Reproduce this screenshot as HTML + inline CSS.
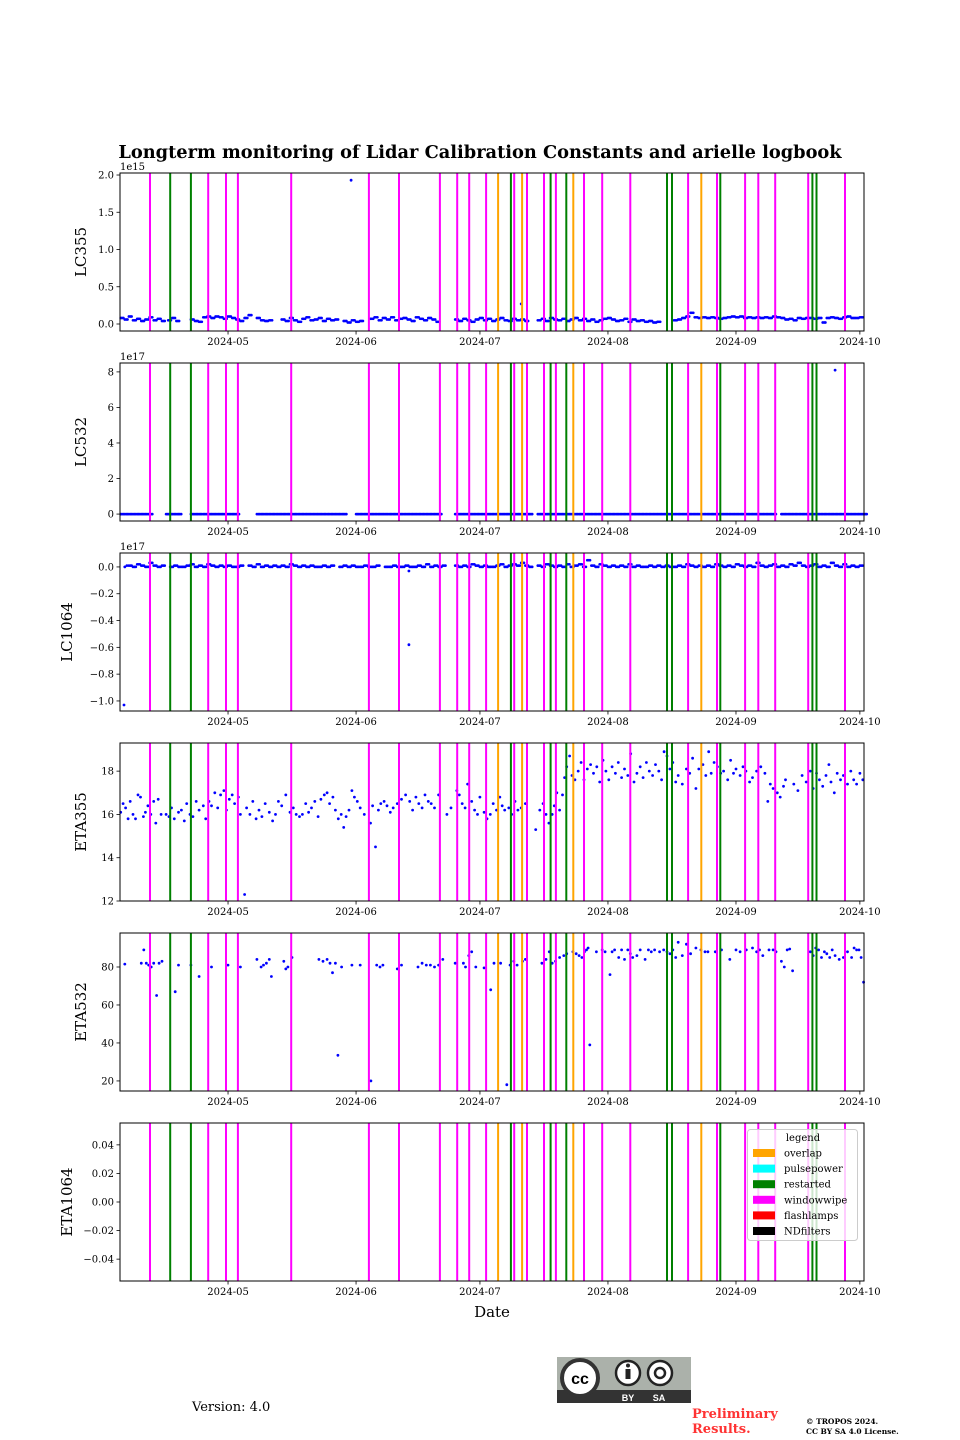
<!DOCTYPE html>
<html><head><meta charset="utf-8">
<style>
html,body{margin:0;padding:0;background:#fff;}
svg{display:block;font-family:"DejaVu Serif","Liberation Serif",serif;}
</style></head>
<body>
<svg id="chart" width="960" height="1440" viewBox="0 0 960 1440"></svg>
<script>
// ---------- data ----------
const tickDates = [121, 152, 182, 213, 244, 274]; // day-of-year (0-based) of month starts
const tickLabels = ["2024-05","2024-06","2024-07","2024-08","2024-09","2024-10"];
const eventsWindowwipe = [102.1,116.2,120.5,123.4,136.3,155.1,162.4,172.3,176.5,179.4,183.5,190.3,193.4,197.5,200.4,207.2,211.6,218.4,232.4,239.4,246.2,249.4,253.5,261.5,270.4];
const eventsRestarted = [107,112,189.5,199.1,202.9,227.3,228.5,240.2,262.5,263.5];
const eventsOverlap = [186.4,192.2,204.6,235.6];

// LC355 (x1e15): runs of [startDay, dailyValues]
const lc355Runs = [
 [95,[0.08,0.06,0.1,0.05,0.07,0.04,0.06,0.09,0.05,0.07,0.04]],
 [106.5,[0.05,0.08,0.04]],
 [112,[0.06,0.04,0.03,0.09,0.1,0.08,0.1,0.09,0.07,0.1,0.08,0.06,0.04,0.08,0.12]],
 [128,[0.08,0.05,0.04,0.05]],
 [134,[0.06,0.04,0.08,0.05,0.03,0.07,0.09,0.05,0.06,0.08,0.04,0.07,0.05,0.06]],
 [149,[0.04,0.02,0.05,0.03,0.04]],
 [155.5,[0.07,0.09,0.05,0.08,0.06,0.09,0.05,0.07,0.08,0.06,0.04,0.09,0.07,0.05,0.08,0.06,0.03]],
 [176,[0.06,0.04,0.07,0.05,0.03,0.06,0.08,0.05,0.07,0.04,0.06,0.08,0.05,0.04,0.07,0.05,0.06,0.04]],
 [196,[0.05,0.07,0.04,0.08,0.06,0.05,0.07,0.04,0.06,0.08,0.05,0.07,0.04,0.06,0.03,0.05,0.07,0.08,0.06,0.04,0.05,0.07,0.03,0.06,0.04,0.05,0.03,0.04,0.02,0.03]],
 [229,[0.05,0.06,0.08,0.1,0.15,0.09,0.08,0.09,0.08,0.09,0.08,0.07,0.08,0.09,0.1,0.09,0.1,0.08,0.09,0.08,0.09,0.08,0.09,0.08,0.1,0.09,0.08,0.06,0.07,0.05,0.08,0.07,0.08,0.08,0.07,0.08,0.02,0.08,0.09,0.08,0.07,0.09,0.1,0.08,0.08,0.09]]
];
const lc355Extra = [[150.8,1.93],[192,0.27]];

// LC532 (x1e17)
const lc532Runs = [
 [95,[0,0,0,0,0,0,0,0]],
 [106,[0,0,0,0]],
 [112,[0,0,0,0,0,0,0,0,0,0,0,0]],
 [128,[0,0,0,0,0,0,0,0,0,0]],
 [138,[0,0,0,0,0,0,0,0,0,0,0,0]],
 [152,[0,0,0,0,0,0,0,0,0,0,0,0,0,0,0,0,0,0,0,0,0]],
 [176,[0,0,0,0,0,0,0,0,0,0,0,0,0,0,0,0,0,0,0]],
 [196,[0,0,0,0,0,0,0,0,0,0,0,0,0,0,0,0,0,0,0,0,0,0,0,0,0,0,0,0,0,0,0,0,0,0,0,0,0,0,0,0,0,0,0,0,0,0,0,0,0,0,0,0,0,0,0,0,0,0]],
 [255,[0,0,0,0,0,0,0,0,0,0,0,0,0,0,0,0,0,0,0,0,0]]
];
const lc532Extra = [[268,8.1]];

// LC1064 (x1e17)
const lc1064Runs = [
 [97,[0.01,0.0,0.02,0.01,0.0,0.03,0.01,0.0,0.01]],
 [107,[0.0,0.01,0.0,0.0,0.01,0.02,0.0,0.01,0.0,0.02,0.01,0.0,0.01,0.0,0.01,0.0,0.0,0.01]],
 [126,[0.01,0.0,0.02,0.0,0.01,0.0,0.01,0.0,0.01,0.0,0.02,0.01,0.0,0.01,0.0,0.01,0.0,0.0,0.01,0.0,0.01]],
 [148,[0.0,0.01,0.0,0.01,0.0,0.0,0.01,0.0,0.0,0.01]],
 [159,[0.0,0.0,0.01,0.0,0.0,0.01,0.0,0.0,0.01,0.0,0.02,0.0,0.01,0.0,0.01]],
 [176,[0.01,0.0,0.01,0.0,0.02,0.01,0.0,0.01,0.0,0.0,0.01,0.02,0.0,0.01,0.02,0.01,0.03,0.01,0.0]],
 [196,[0.01,0.0,0.02,0.01,0.0,0.01,0.0,0.02,0.0,0.01,0.02,0.0,0.05,0.01,0.0,0.02,0.01,0.0,0.01,0.0,0.01,0.0,0.02,0.0,0.01,0.0,0.0,0.01,0.0,0.01,0.0,0.01,0.0,0.0,0.01,0.0,0.02,0.01,0.0,0.01,0.0,0.01,0.0,0.02,0.01,0.0,0.01,0.0,0.02,0.01,0.0,0.01,0.0,0.03,0.01,0.0,0.01,0.02,0.0,0.01,0.0,0.02,0.01,0.03,0.01,0.0,0.01,0.02,0.0,0.01,0.0,0.03,0.01,0.0,0.02,0.0,0.01,0.0,0.01]]
];
const lc1064Extra = [[95.8,-1.03],[164.8,-0.58],[164.8,-0.03],[96,0.0],[96.5,0.01]];

// ETA355
const eta355Days = [95,95.6,96.2,96.8,97.3,98,98.6,99.2,99.8,100.5,101,101.6,102.3,103,103.5,104.1,104.8,106,106.7,107.3,108,109,109.7,110.4,111,111.8,112.5,113.3,114,115,115.6,116.4,117,117.8,118.5,119.2,120,120.6,121.3,122,122.6,123.5,124,125,125.5,126.3,127,127.8,128.5,129.2,130,131,131.8,132.5,133.2,134,135,136,136.8,137.5,138.3,139,139.8,140.5,141.2,142,142.8,143.5,144.3,145,145.6,146.4,147,147.7,148.4,149,149.6,150.3,151,151.6,152.3,153,154,155.5,156,156.7,157.4,158,158.8,159.5,160.3,161,162,163,164,165,165.7,166.5,167.2,168,168.7,169.5,170.2,171,172,174,175,176.4,177,177.7,178.4,179,180,180.7,181.4,182,183,183.7,184.5,185.2,186,186.8,187.4,188,189,189.7,190.5,191.2,192,193,195.5,196.5,197.3,198,198.7,199.5,200,200.6,201.3,202,202.5,203,203.7,204.3,205,205.8,206.5,207.2,208,208.8,209.5,210.3,211,211.8,212.5,213.2,214,214.8,215.5,216.3,217,217.8,218.5,219.3,220,220.8,221.5,222.3,223,223.8,224.5,225.3,226,226.6,227.3,228,228.7,229.4,230,231,232,232.8,233.5,234.3,235,236,236.7,237.4,238,238.7,239.5,240.3,241,242,242.7,243.4,244,245,245.7,246.4,247.3,248,249,250,251,251.7,252.3,253,254,254.7,255.5,256,258,259,260,261,262,262.7,263.5,264.2,265,265.8,266.5,267,267.8,268.5,269.3,270,271,271.8,272.5,273.2,274,274.7];
const eta355Vals = [16.1,16.5,16.3,15.8,16.6,16.0,15.8,16.9,16.8,15.9,16.1,16.4,16.0,16.6,15.6,16.7,16.0,16.0,15.9,16.3,15.8,16.1,16.2,15.7,16.5,16.0,15.9,16.6,16.2,16.4,15.8,16.6,16.4,17.0,16.3,16.9,17.1,16.2,16.7,16.9,16.5,16.8,16.0,12.3,16.3,16.0,16.6,15.8,16.2,15.9,16.5,16.1,15.7,16.0,16.6,16.4,16.9,16.1,16.3,16.0,15.9,16.0,16.5,16.1,16.3,16.6,15.9,16.7,16.9,17.0,16.5,16.8,16.2,15.8,16.0,15.4,15.9,16.2,17.1,16.8,16.6,16.3,16.0,15.6,16.4,14.5,16.2,16.5,16.6,16.4,16.1,16.3,16.5,16.7,16.9,16.6,16.2,16.8,16.5,16.3,16.9,16.6,16.5,16.3,16.9,16.0,16.3,17.1,16.9,16.5,16.3,17.4,16.6,16.2,16.0,16.8,16.1,15.8,16.0,16.5,16.2,16.8,16.4,16.2,16.3,16.0,16.6,16.2,16.3,16.5,15.3,16.2,16.5,16.0,15.6,16.0,16.4,17.0,16.2,16.9,17.7,18.2,18.7,17.8,17.6,18.0,18.4,17.6,18.1,18.3,17.9,18.2,17.5,18.5,18.0,17.6,18.2,17.9,18.4,17.7,18.1,17.8,18.8,17.5,17.9,18.2,17.7,18.4,18.0,17.8,18.3,18.0,17.6,18.9,18.7,18.1,18.4,17.5,17.8,17.4,18.1,17.9,18.6,17.2,18.1,18.3,17.8,18.9,17.9,18.4,18.2,17.9,18.0,17.6,18.5,17.9,18.1,17.8,18.2,18.0,17.5,17.7,18.0,18.2,17.9,16.6,17.4,17.2,17.0,16.8,17.3,17.6,17.4,17.1,17.8,17.5,18.0,17.2,17.9,17.6,17.3,17.8,18.3,17.5,17.0,17.9,17.6,17.8,17.4,18.0,17.6,17.4,17.9,17.6];

// ETA532
const eta532Days = [96,100,100.6,101.2,101.8,102.4,103,103.7,104.3,105,108.2,109,112,114,117,121,124,128,129,129.6,130.3,131,131.5,134.5,135,135.5,136.5,143,144,145,145.7,146.3,147,147.6,148.5,151,153,155.6,157,157.8,158.5,162,163,167,168,169,170,171,172,173,176,178,178.5,179.3,180,181,183,184.6,185.4,187,188.5,189.3,190.2,191,192.3,193,197,198,198.8,199.5,200.3,201.3,202.3,203,204.5,205.3,206,206.7,207.3,207.8,208.2,208.6,210.2,211.6,212.3,213.5,214,214.6,215.6,216.3,217,217.8,218.4,219,220,220.8,222,222.8,223.5,224.3,225.5,226.5,227.3,228,228.7,229.4,230,231,232,233,234.3,235.5,236.5,237.2,239,240.5,242.5,244,245,246.5,248,249,249.7,250.5,252,253,253.7,255,255.7,256.4,257,257.7,262,262.7,263.3,264,264.7,265.4,266,266.7,267.3,268,269,270,271,272,272.6,273.2,273.8,274.3,274.9];
const eta532Vals = [81.5,82,89,82,81,80,82,65,82,83,67,81,81,75,80,81,80,84,80,81,82,84,75,83,79,80,85,84,83,84,82,77,82,33.5,80,81,81,20,81,80,81,79,81,80,82,81,81,80,81,84,82,82,80,86,88,80,79.5,68,82,82,18,81,83,81,83,84,82,84,88,82,83,85,86,87,88,87,86,85,88,89,90,39,88,89,88,76,88,89,85,89,84,89,87,85,86,89,84,89,88,89,88,89,88,87,89,85,93,86,92,87,90,89,88,88,88,89,84,89,88,89,90,88,89,86,89,89,88,83,80,89,89.5,78,88,86,90,89,85,88,87,85,89,86,84,85,88,85,90,89,89,85,72];

// ---------- layout ----------
const svg = document.getElementById('chart');
const NS = 'http://www.w3.org/2000/svg';
const X0 = 120, X1 = 864, D0 = 94.84, D1 = 275.0;
function xs(d){ return X0 + (d - D0) / (D1 - D0) * (X1 - X0); }
function mk(tag, attrs, parent){
  const e = document.createElementNS(NS, tag);
  for (const k in attrs) e.setAttribute(k, attrs[k]);
  (parent || svg).appendChild(e);
  return e;
}
function txt(s, attrs, parent){ const t = mk('text', attrs, parent); t.textContent = s; return t; }

const panels = [
  {name:'lc355', label:'LC355', top:173, ymin:-0.094, ymax:2.027, ticks:[0,0.5,1,1.5,2], tl:['0.0','0.5','1.0','1.5','2.0'], off:'1e15', runs:lc355Runs, extra:lc355Extra},
  {name:'lc532', label:'LC532', top:363, ymin:-0.39, ymax:8.5, ticks:[0,2,4,6,8], tl:['0','2','4','6','8'], off:'1e17', runs:lc532Runs, extra:lc532Extra},
  {name:'lc1064', label:'LC1064', top:553, ymin:-1.075, ymax:0.104, ticks:[0,-0.2,-0.4,-0.6,-0.8,-1.0], tl:['0.0','\u22120.2','\u22120.4','\u22120.6','\u22120.8','\u22121.0'], off:'1e17', runs:lc1064Runs, extra:lc1064Extra},
  {name:'eta355', label:'ETA355', top:743, ymin:12, ymax:19.3, ticks:[12,14,16,18], tl:['12','14','16','18'], days:eta355Days, vals:eta355Vals},
  {name:'eta532', label:'ETA532', top:933, ymin:14.7, ymax:97.9, ticks:[20,40,60,80], tl:['20','40','60','80'], days:eta532Days, vals:eta532Vals},
  {name:'eta1064', label:'ETA1064', top:1123, ymin:-0.0553, ymax:0.0553, ticks:[0.04,0.02,0,-0.02,-0.04], tl:['0.04','0.02','0.00','\u22120.02','\u22120.04']}
];
const H = 158;

const title = txt('Longterm monitoring of Lidar Calibration Constants and arielle logbook', {x:480, y:158, 'text-anchor':'middle', 'font-size':'17.8', 'font-weight':'bold'});



panels.forEach(p => {
  const g = mk('g', {});
  
  
  const ys = v => p.top + H - (v - p.ymin) / (p.ymax - p.ymin) * H;
  const pts = mk('g', {fill:'#0000ff'}, g);
  
  
  if (p.runs) {
    p.runs.forEach(r => r[1].forEach((v, i) => {
      [0, 0.33, 0.66].forEach(o => {
        const c = mk('circle', {cx:xs(r[0] + i + o).toFixed(1), cy:ys(v).toFixed(1), r:1.35}, pts);
        
        
      });
    }));
    p.extra.forEach(e => {
      const c = mk('circle', {cx:xs(e[0]).toFixed(1), cy:ys(e[1]).toFixed(1), r:1.4}, pts);
      
      
    });
  }
  if (p.days) {
    p.days.forEach((d, i) => {
      const c = mk('circle', {cx:xs(d).toFixed(1), cy:ys(p.vals[i]).toFixed(1), r:1.4}, pts);
      
      
    });
  }
  const ev = mk('g', {}, g);
  
  
  [[eventsWindowwipe,'#ff00ff','windowwipe'],[eventsRestarted,'#008000','restarted'],[eventsOverlap,'#ffa500','overlap']].forEach(([arr,col,nm]) => {
    arr.forEach(d => {
      const l = mk('line', {x1:xs(d).toFixed(1), x2:xs(d).toFixed(1), y1:p.top, y2:p.top+H, stroke:col, 'stroke-width':2}, ev);
      
      
    });
  });
  const fr = mk('rect', {x:X0, y:p.top, width:X1-X0, height:H, fill:'none', stroke:'#000', 'stroke-width':1}, g);
  
  
  p.ticks.forEach((t, i) => {
    const y = ys(t);
    mk('line', {x1:X0-3.5, x2:X0, y1:y, y2:y, stroke:'#000', 'stroke-width':0.8}, g);
    const tl = txt(p.tl[i], {x:X0-6, y:y+3.5, 'text-anchor':'end', 'font-size':'10'}, g);
    
    
  });
  tickDates.forEach((d, i) => {
    const x = xs(d);
    mk('line', {x1:x, x2:x, y1:p.top+H, y2:p.top+H+3.5, stroke:'#000', 'stroke-width':0.8}, g);
    const tl = txt(tickLabels[i], {x:x, y:p.top+H+14, 'text-anchor':'middle', 'font-size':'10'}, g);
    
    
  });
  if (p.off) {
    const o = txt(p.off, {x:X0, y:p.top-3, 'font-size':'10'}, g);
    
    
  }
  const yl = txt(p.label, {x:0, y:0, 'text-anchor':'middle', 'font-size':'15', transform:'translate(' + (p.name==='lc1064'||p.name==='eta1064'?72:86) + ',' + (p.top+H/2) + ') rotate(-90)'}, g);
  
  
});

const xl = txt('Date', {x:492, y:1317, 'text-anchor':'middle', 'font-size':'15'});



const lg = mk('g', {});


mk('rect', {x:747.5, y:1129.5, width:110, height:111, rx:3, fill:'#fff', 'fill-opacity':0.8, stroke:'#ccc'}, lg);
txt('legend', {x:803, y:1141, 'text-anchor':'middle', 'font-size':'10'}, lg);
const legItems = [['overlap','#ffa500'],['pulsepower','#00ffff'],['restarted','#008000'],['windowwipe','#ff00ff'],['flashlamps','#ff0000'],['NDfilters','#000000']];
legItems.forEach((it, i) => {
  const y = 1153 + i * 15.6;
  const e = mk('g', {}, lg);
  
  
  mk('rect', {x:753, y:y-4, width:22, height:8, fill:it[1]}, e);
  txt(it[0], {x:784, y:y+3.5, 'font-size':'10'}, e);
});

const ver = txt('Version: 4.0', {x:192, y:1411, 'font-size':'13'});


const cc = mk('g', {});


mk('rect', {x:557, y:1357, width:134, height:46, fill:'#abb1aa'}, cc);
mk('rect', {x:557, y:1390, width:134, height:13, fill:'#333'}, cc);
mk('circle', {cx:580, cy:1378, r:18, fill:'#fff', stroke:'#333', 'stroke-width':4}, cc);
txt('cc', {x:580, y:1384, 'text-anchor':'middle', 'font-size':'16', 'font-weight':'bold', 'font-family':'Liberation Sans,sans-serif'}, cc);
mk('circle', {cx:628, cy:1373, r:12, fill:'#fff', stroke:'#222', 'stroke-width':2.5}, cc);
mk('circle', {cx:660, cy:1373, r:12, fill:'#fff', stroke:'#222', 'stroke-width':2.5}, cc);
mk('rect', {x:625.5, y:1369, width:5, height:10, fill:'#222'}, cc);
mk('circle', {cx:628, cy:1365.5, r:2, fill:'#222'}, cc);
mk('circle', {cx:660, cy:1373, r:5, fill:'none', stroke:'#222', 'stroke-width':2.5}, cc);
txt('BY', {x:628, y:1401, 'text-anchor':'middle', 'font-size':'9', 'font-weight':'bold', fill:'#fff', 'font-family':'Liberation Sans,sans-serif'}, cc);
txt('SA', {x:659, y:1401, 'text-anchor':'middle', 'font-size':'9', 'font-weight':'bold', fill:'#fff', 'font-family':'Liberation Sans,sans-serif'}, cc);
const pr = mk('g', {fill:'#ff3333', 'font-size':'13', 'font-weight':'bold'});


txt('Preliminary', {x:692, y:1418}, pr);
txt('Results.', {x:692, y:1433}, pr);
const cp = mk('g', {'font-size':'7.5', 'font-weight':'bold'});


txt('\u00a9 TROPOS 2024.', {x:806, y:1424}, cp);
txt('CC BY SA 4.0 License.', {x:806, y:1434}, cp);
</script>
</body></html>
